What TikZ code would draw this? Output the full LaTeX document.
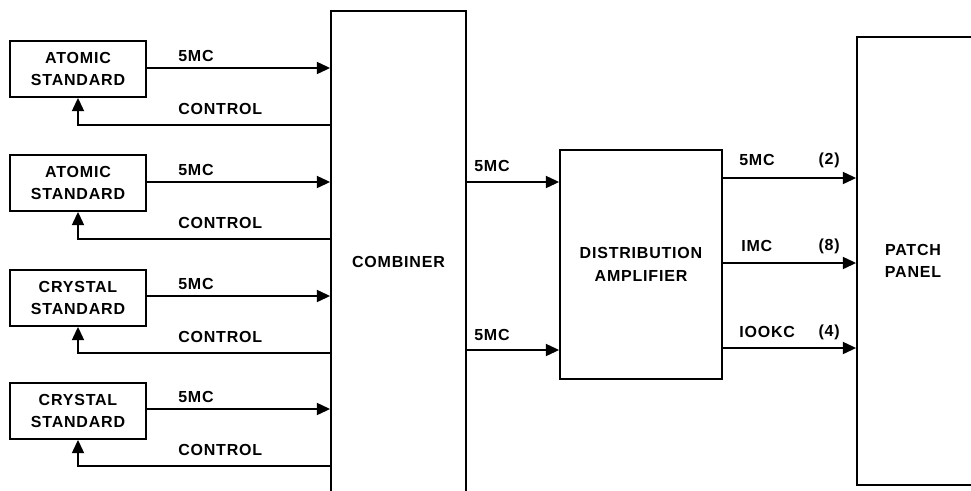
\documentclass[tikz,border=0pt]{standalone}
\usepackage{fontspec}
\setmainfont{Liberation Sans}[LetterSpace=5]
\usetikzlibrary{arrows.meta,calc}
\begin{document}
\begin{tikzpicture}[x=0.75pt,y=-0.75pt,
  blk/.style={draw,line width=1.3pt,rectangle,inner sep=0pt,font=\bfseries\fontsize{12}{17}\selectfont,align=center},
  lbl/.style={font=\bfseries\fontsize{12}{15}\selectfont,inner sep=0pt},
  arr/.style={line width=1.5pt,-{Triangle[length=10pt,width=9pt]}},
  ln/.style={line width=1.5pt}]
\useasboundingbox (0,0) rectangle (971,490);
\clip (0,0) rectangle (971,490);
% left standards
\node[blk,minimum width=102pt,minimum height=42pt] (b1) at (78,69) {ATOMIC\\STANDARD};
\node[blk,minimum width=102pt,minimum height=42pt] (b2) at (78,183) {ATOMIC\\STANDARD};
\node[blk,minimum width=102pt,minimum height=42pt] (b3) at (78,298) {CRYSTAL\\STANDARD};
\node[blk,minimum width=102pt,minimum height=42pt] (b4) at (78,411) {CRYSTAL\\STANDARD};
% combiner
\node[blk,minimum width=101.25pt,minimum height=366.75pt] (comb) at (398.5,255.5) {};
\node[lbl] (combt) at (398.5,262) {COMBINER};
% distribution amplifier
\node[blk,minimum width=121.5pt,minimum height=171.75pt] (dist) at (641,264.5) {DISTRIBUTION\\AMPLIFIER};
% patch panel
\node[blk,minimum width=97.5pt,minimum height=336pt] (patch) at (922,261) {};
\node[blk,draw=none] (patcht) at (913,261) {PATCH\\PANEL};
% inputs to combiner
\foreach \b/\y in {b1/68,b2/182,b3/296,b4/409}{
  \coordinate (o\b) at (\b.east |- 0,\y);
  \draw[arr] (o\b) -- (o\b -| comb.west);
  \node[lbl,anchor=west] at (178,\y-12) {5MC};
}
\foreach \b/\y in {b1/125,b2/239,b3/353,b4/466}{
  \coordinate (c\b) at (comb.west |- 0,\y);
  \draw[arr] (c\b) -- (c\b -| \b.south) -- (\b.south);
  \node[lbl,anchor=west] at (178,\y-16) {CONTROL};
}
% combiner to distribution
\coordinate (m1) at (comb.east |- 0,182);
\coordinate (m2) at (comb.east |- 0,350);
\draw[arr] (m1) -- (m1 -| dist.west);
\draw[arr] (m2) -- (m2 -| dist.west);
\node[lbl,anchor=west] at (474,166) {5MC};
\node[lbl,anchor=west] at (474,335) {5MC};
% distribution to patch panel
\coordinate (d1) at (dist.east |- 0,178);
\coordinate (d2) at (dist.east |- 0,263);
\coordinate (d3) at (dist.east |- 0,348);
\draw[arr] (d1) -- (d1 -| patch.west);
\draw[arr] (d2) -- (d2 -| patch.west);
\draw[arr] (d3) -- (d3 -| patch.west);
\node[lbl,anchor=west] at (739,160) {5MC};
\node[lbl,anchor=east] at (840,160) {(2)};
\node[lbl,anchor=west] at (741,246) {IMC};
\node[lbl,anchor=east] at (840,246) {(8)};
\node[lbl,anchor=west] at (739,332) {IOOKC};
\node[lbl,anchor=east] at (840,332) {(4)};
\end{tikzpicture}
\end{document}
